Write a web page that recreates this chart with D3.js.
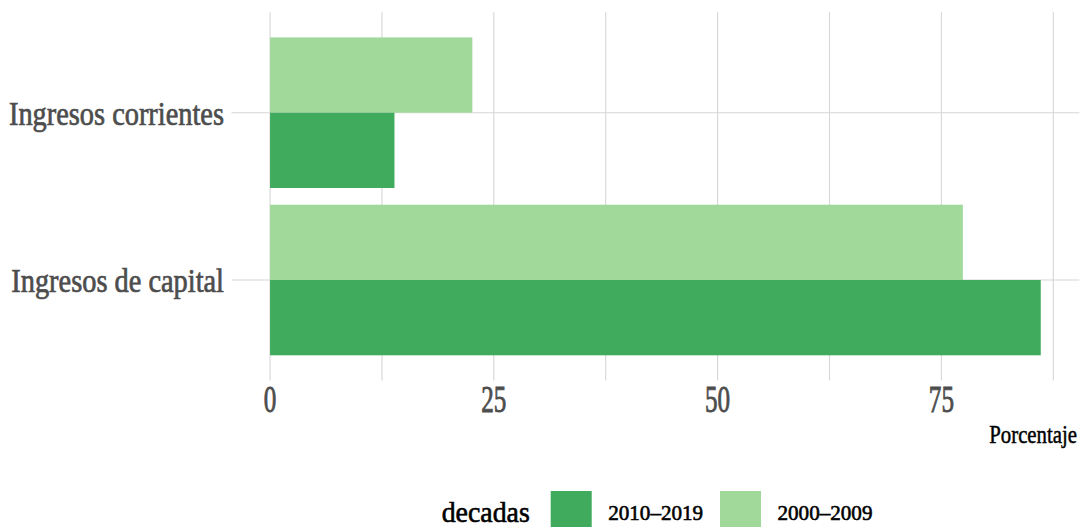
<!DOCTYPE html>
<html>
<head>
<meta charset="utf-8">
<script src="https://cdn.jsdelivr.net/npm/d3@7"></script>
<style>
  body { margin: 0; background: #fff; }
  text { font-family: "Liberation Serif", "DejaVu Serif", serif; }
</style>
</head>
<body>
<div id="chart"></div>
<script>
'use strict';

// data
var categories = ['Ingresos corrientes', 'Ingresos de capital'];
var decadas = ['2010–2019', '2000–2009'];
var valores2010 = [13.9, 86.1];
var valores2000 = [22.6, 77.4];
var xTicks = [0, 25, 50, 75];
var xMinor = [12.5, 37.5, 62.5, 87.5];
var colores = ['#41ab5d', '#a1d99b'];

(function(){
  var width = 1080, height = 527;

  var svg = d3.select('#chart')
    .append('svg')
    .attr('width', width)
    .attr('height', height);

  // ggplot style 5% expansion around 0..max
  var maxVal = d3.max(valores2010.concat(valores2000));
  var pad = maxVal * 0.05;
  var x = d3.scaleLinear()
    .domain([-pad, maxVal + pad])
    .range([231.5, 1079.3]);

  var y = d3.scalePoint()
    .domain(categories)
    .range([12.3, 380.4])
    .padding(0.6);

  var step = y.step();
  var barH = step * 0.9 / 2;

  // helper: condensed text anchored at (px, py)
  function label(g, px, py, txt, size, sx, anchor, fill, sw) {
    return g.append('text')
      .attr('transform', 'translate(' + px + ',' + py + ') scale(' + sx + ',1)')
      .attr('text-anchor', anchor)
      .attr('font-size', size)
      .attr('fill', fill)
      .attr('stroke', fill)
      .attr('stroke-width', sw || 0)
      .text(txt);
  }

  var grid = svg.append('g');
  var panelTop = y.range()[0], panelBottom = y.range()[1];

  grid.selectAll('line.v')
    .data(xTicks.concat(xMinor))
    .enter()
    .append('line')
    .attr('x1', function(d){ return x(d); })
    .attr('x2', function(d){ return x(d); })
    .attr('y1', panelTop)
    .attr('y2', panelBottom)
    .attr('stroke', '#d6d6d6')
    .attr('stroke-width', 1.1);

  grid.selectAll('line.h')
    .data(categories)
    .enter()
    .append('line')
    .attr('x1', x.range()[0])
    .attr('x2', x.range()[1])
    .attr('y1', function(d){ return y(d); })
    .attr('y2', function(d){ return y(d); })
    .attr('stroke', '#d6d6d6')
    .attr('stroke-width', 1.1);

  // bars: 2000-2009 above, 2010-2019 below the category line
  var bars = svg.append('g');
  bars.selectAll('rect.b2000')
    .data(categories)
    .enter()
    .append('rect')
    .attr('x', x(0))
    .attr('y', function(d){ return y(d) - barH; })
    .attr('width', function(d, i){ return x(valores2000[i]) - x(0); })
    .attr('height', barH)
    .attr('fill', colores[1]);

  bars.selectAll('rect.b2010')
    .data(categories)
    .enter()
    .append('rect')
    .attr('x', x(0))
    .attr('y', function(d){ return y(d); })
    .attr('width', function(d, i){ return x(valores2010[i]) - x(0); })
    .attr('height', barH)
    .attr('fill', colores[0]);

  // axis labels
  var axes = svg.append('g');
  categories.forEach(function(c){
    label(axes, 224, y(c) + 12, c, 33, 0.86, 'end', '#4d4d4d', 0.7);
  });
  xTicks.forEach(function(t){
    label(axes, x(t), 411.5, t, 37, 0.68, 'middle', '#4d4d4d', 0.9);
  });
  label(axes, 1077, 443, 'Porcentaje', 26, 0.8, 'end', '#000', 0.5);

  // legend
  var leg = svg.append('g');
  label(leg, 441.7, 521.5, 'decadas', 29, 0.96, 'start', '#000', 0.6);
  var keyX = [550.7, 720];
  decadas.forEach(function(d, i){
    leg.append('rect')
      .attr('x', keyX[i])
      .attr('y', 491)
      .attr('width', 41)
      .attr('height', 41)
      .attr('fill', colores[i]);
    label(leg, keyX[i] + 57.5, 519.5, d, 22, 0.96, 'start', '#000', 0.6);
  });
})();
</script>
</body>
</html>
